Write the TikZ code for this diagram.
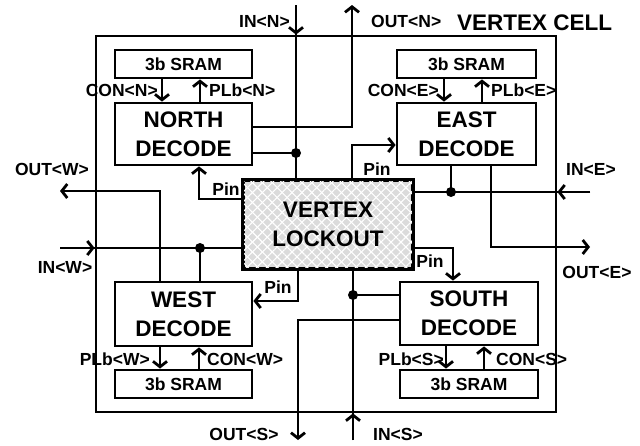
\documentclass[tikz,border=0pt]{standalone}
\usepackage{fontspec}
\setmainfont{Liberation Sans}
\usetikzlibrary{arrows.meta,patterns.meta}
\begin{document}
\begin{tikzpicture}[x=1pt,y=-1pt,
  wire/.style={line width=2.8pt},
  >={Straight Barb[length=5.5pt,width=14pt]},
  box/.style={draw,line width=2.8pt,inner sep=0pt},
  dec/.style={box,font=\fontsize{22.5}{29}\selectfont\bfseries,align=center},
  sram/.style={box,font=\fontsize{17.5}{20}\selectfont\bfseries},
  lbl/.style={inner sep=0pt,font=\fontsize{17.5}{20}\selectfont\bfseries},
  dot/.style={fill=black}]
\useasboundingbox (0,0) rectangle (640,445);
% outer cell
\node[box,minimum width=460pt,minimum height=376pt] (cell) at (326,224) {};
\node[lbl,anchor=west,font=\fontsize{22.5}{26}\selectfont\bfseries] (title) at (457,23) {VERTEX CELL};
% vertex lockout
\node[box,minimum width=168pt,minimum height=87pt,fill=gray!28,
  postaction={pattern={Lines[angle=45,distance=7pt,line width=1.1pt]},pattern color=white},
  postaction={pattern={Lines[angle=-45,distance=7pt,line width=1.1pt]},pattern color=white}]
  (vlbox) at (328,224.5) {};
\node[box,draw=none,minimum width=168pt,minimum height=87pt,font=\fontsize{22.5}{29}\selectfont\bfseries,align=center]
  (vl) at (328,224.5) {VERTEX\\LOCKOUT};
\draw[line width=2.8pt] (vl.north west) rectangle (vl.south east);
% decoders
\node[dec,minimum width=137pt,minimum height=62pt] (ndec) at (183.5,134) {NORTH\\DECODE};
\node[sram,minimum width=137pt,minimum height=28pt] (nsram) at (183.5,64) {3b SRAM};
\node[dec,minimum width=139pt,minimum height=62pt] (edec) at (466.5,134) {EAST\\DECODE};
\node[sram,minimum width=139pt,minimum height=28pt] (esram) at (466.5,64) {3b SRAM};
\node[dec,minimum width=137pt,minimum height=64pt] (wdec) at (183.5,314) {WEST\\DECODE};
\node[sram,minimum width=137pt,minimum height=28pt] (wsram) at (183.5,384) {3b SRAM};
\node[dec,minimum width=138pt,minimum height=63pt] (sdec) at (469,313.5) {SOUTH\\DECODE};
\node[sram,minimum width=138pt,minimum height=28pt] (ssram) at (469,384) {3b SRAM};
% free ends and bends
\coordinate (inN) at (296,5);
\coordinate (outN) at (352,5);
\coordinate (outW) at (60,191);
\coordinate (inW) at (60,248);
\coordinate (outS) at (298,440);
\coordinate (inS) at (353,440);
\coordinate (outE) at (590,247);
\coordinate (inE) at (590,192);
\coordinate (dotN) at (296,153);
\coordinate (nA) at (352,127);
\coordinate (pinN) at (199,199);
\coordinate (wA) at (160,191);
\coordinate (dotW) at (200,248);
\coordinate (pinW) at (298,301);
\coordinate (sA) at (298,320);
\coordinate (dotS) at (353,295);
\coordinate (pinS) at (453,248);
\coordinate (eA) at (491,247);
\coordinate (dotE) at (451,192);
\coordinate (pinE) at (352,145);
% north
\draw[wire] (inN) -- (vl.north -| inN);
\draw[wire,->] (inN) -- (inN |- cell.north);
\draw[wire] (ndec.east |- dotN) -- (dotN);
\fill[dot] (dotN) circle (5pt);
\draw[wire,->] (ndec.east |- nA) -- (nA) -- (outN);
\draw[wire,->] (vl.west |- pinN) -- (pinN) -- (pinN |- ndec.south);
% west
\draw[wire,->] (wA |- wdec.north) -- (wA) -- (outW);
\draw[wire] (inW) -- (vl.west |- inW);
\draw[wire,->] (inW) -- (inW -| cell.west);
\draw[wire] (dotW) -- (dotW |- wdec.north);
\fill[dot] (dotW) circle (5pt);
\draw[wire,->] (pinW |- vl.south) -- (pinW) -- (wdec.east |- pinW);
% south
\draw[wire,->] (sdec.west |- sA) -- (sA) -- (outS);
\draw[wire] (inS) -- (inS |- vl.south);
\draw[wire,->] (inS) -- (inS |- cell.south);
\draw[wire] (dotS) -- (sdec.west |- dotS);
\fill[dot] (dotS) circle (5pt);
\draw[wire,->] (vl.east |- pinS) -- (pinS) -- (pinS |- sdec.north);
% east
\draw[wire,->] (eA |- edec.south) -- (eA) -- (outE);
\draw[wire] (inE) -- (vl.east |- inE);
\draw[wire,->] (inE) -- (inE -| cell.east);
\draw[wire] (dotE) -- (dotE |- edec.south);
\fill[dot] (dotE) circle (5pt);
\draw[wire,->] (pinE |- vl.north) -- (pinE) -- (edec.west |- pinE);
% sram links
\draw[wire,->] ([xshift=-21.5pt]nsram.south) -- ([xshift=-21.5pt]ndec.north);
\draw[wire,->] ([xshift=16.5pt]ndec.north) -- ([xshift=16.5pt]nsram.south);
\draw[wire,->] ([xshift=-22.5pt]esram.south) -- ([xshift=-22.5pt]edec.north);
\draw[wire,->] ([xshift=15.5pt]edec.north) -- ([xshift=15.5pt]esram.south);
\draw[wire,->] ([xshift=-23.5pt]wdec.south) -- ([xshift=-23.5pt]wsram.north);
\draw[wire,->] ([xshift=15.5pt]wsram.north) -- ([xshift=15.5pt]wdec.south);
\draw[wire,->] ([xshift=-23pt]sdec.south) -- ([xshift=-23pt]ssram.north);
\draw[wire,->] ([xshift=15pt]ssram.north) -- ([xshift=15pt]sdec.south);
% labels
\node[lbl,anchor=east] (lInN) at (290,21) {IN<N>};
\node[lbl,anchor=west] (lOutN) at (371,21) {OUT<N>};
\node[lbl,anchor=east] (lConN) at (158,90) {CON<N>};
\node[lbl,anchor=west] (lPlbN) at (209,90) {PLb<N>};
\node[lbl,anchor=east] (lConE) at (439,90) {CON<E>};
\node[lbl,anchor=west] (lPlbE) at (491,90) {PLb<E>};
\node[lbl,anchor=east] (lPlbW) at (150,359) {PLb<W>};
\node[lbl,anchor=west] (lConW) at (207,359) {CON<W>};
\node[lbl,anchor=east] (lPlbS) at (444,359) {PLb<S>};
\node[lbl,anchor=west] (lConS) at (496,359) {CON<S>};
\node[lbl] (lOutW) at (52,169) {OUT<W>};
\node[lbl] (lInW) at (65,267) {IN<W>};
\node[lbl] (lPinN) at (226,189) {Pin};
\node[lbl] (lPinE) at (377,169) {Pin};
\node[lbl] (lPinS) at (430,261) {Pin};
\node[lbl] (lPinW) at (278,287) {Pin};
\node[lbl] (lOutS) at (244,434) {OUT<S>};
\node[lbl] (lInS) at (398,434) {IN<S>};
\node[lbl] (lOutE) at (597,272) {OUT<E>};
\node[lbl] (lInE) at (591,169) {IN<E>};
\end{tikzpicture}
\end{document}
